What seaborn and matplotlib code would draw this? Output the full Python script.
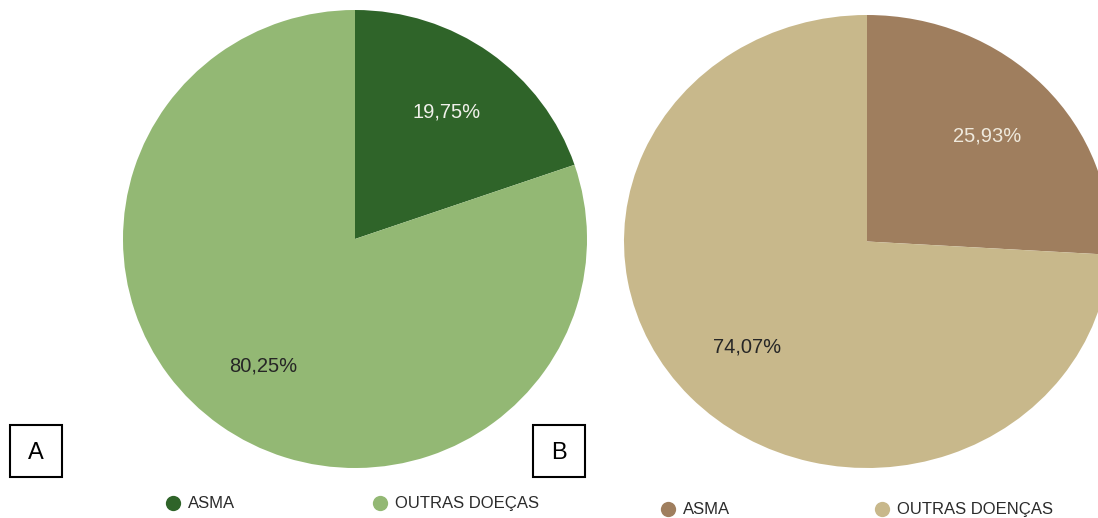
import matplotlib
matplotlib.use("Agg")
import matplotlib.pyplot as plt
from matplotlib.patches import Rectangle
import seaborn as sns

# Share of asthma among respiratory cases, two groups
categories_a = ["ASMA", "OUTRAS DOEÇAS"]
values_a = [19.75, 80.25]
categories_b = ["ASMA", "OUTRAS DOENÇAS"]
values_b = [25.93, 74.07]
panel_labels = ["A", "B"]

colors_a = ["#2f6429", "#93b874"]
colors_b = ["#9f7e5e", "#c8b88b"]
pct_colors_a = ["#f0f0ea", "#262626"]
pct_colors_b = ["#efe9dc", "#262626"]

sns.set_theme(style="white")
plt.rcParams["font.family"] = ["Liberation Sans", "DejaVu Sans"]

W, H = 1098, 518
fig = plt.figure(figsize=(W / 100, H / 100), dpi=100)
fig.patch.set_facecolor("white")


def px_axes(left, top, width, height):
    return fig.add_axes([left / W, 1 - (top + height) / H, width / W, height / H])


def fmt_pct(p):
    return f"{p:.2f}%".replace(".", ",")


def draw_pie(ax, values, colors, pct_colors):
    wedges, texts, autotexts = ax.pie(
        values, colors=colors, startangle=90, counterclock=False,
        autopct=fmt_pct, pctdistance=0.68, radius=1.0,
        wedgeprops=dict(linewidth=0, edgecolor="none"),
        textprops=dict(fontsize=14.5),
    )
    for t, c in zip(autotexts, pct_colors):
        t.set_color(c)
    ax.set_xlim(-1, 1)
    ax.set_ylim(-1, 1)
    ax.set_aspect("auto")
    ax.axis("off")


ax_a = px_axes(123, 10, 464, 458)
draw_pie(ax_a, values_a, colors_a, pct_colors_a)

ax_b = px_axes(624, 15, 486, 453)
draw_pie(ax_b, values_b, colors_b, pct_colors_b)

# Overlay in pixel units for panel tags and legends
ov = fig.add_axes([0, 0, 1, 1], zorder=5)
ov.set_xlim(0, W)
ov.set_ylim(H, 0)
ov.axis("off")

for (x0, y0), lab in zip([(10, 425), (533, 425)], panel_labels):
    ov.add_patch(Rectangle((x0, y0), 52, 52, fill=False, edgecolor="black", linewidth=1.5))
    ov.text(x0 + 26, y0 + 28, lab, ha="center", va="center", fontsize=17,
            color="black", family=["Liberation Sans Narrow", "Liberation Sans", "DejaVu Sans"])

legend_rows = [
    (categories_a, colors_a, [173, 380], 503),
    (categories_b, colors_b, [668, 882], 509),
]
for cats, cols, xs, y in legend_rows:
    for cat, col, x in zip(cats, cols, xs):
        ov.plot([x], [y], "o", markersize=11, color=col, markeredgewidth=0)
        ov.text(x + 15, y + 0.5, cat, ha="left", va="center", fontsize=12, color="#2b2b2b")

fig.savefig("out.png", dpi=100, facecolor="white")
